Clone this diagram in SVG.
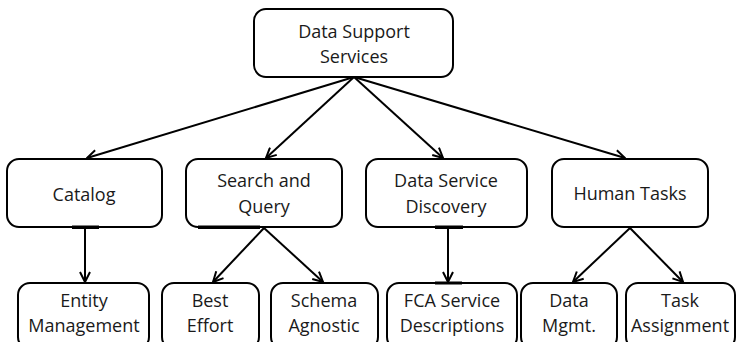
<svg xmlns="http://www.w3.org/2000/svg" width="737" height="342" viewBox="0 0 737 342">
  <defs>
    <marker id="arrow" viewBox="0 0 12 12" refX="11" refY="6" markerWidth="12" markerHeight="12" markerUnits="userSpaceOnUse" orient="auto">
      <path d="M1,1 L11,6 L1,11" fill="none" stroke="#000" stroke-width="2" stroke-linejoin="miter"/>
    </marker>
  </defs>
  <style>
    .box { fill: #fff; stroke: #000; stroke-width: 2; }
    .label { font-family: "Open Sans", "Liberation Sans", sans-serif; font-size: 18px; fill: #1a1a1a; text-anchor: middle; }
    .edge { stroke: #000; stroke-width: 2; fill: none; marker-end: url(#arrow); }
    .bar { fill: #000; }
  </style>
  <rect width="737" height="342" fill="#fff"/>

  <g id="connectors">
    <line class="edge" x1="354" y1="77" x2="87" y2="158"/>
    <line class="edge" x1="354" y1="77" x2="266" y2="158"/>
    <line class="edge" x1="354" y1="77" x2="443" y2="158"/>
    <line class="edge" x1="354" y1="77" x2="625" y2="158"/>
    <line class="edge" x1="85" y1="227" x2="85" y2="282"/>
    <line class="edge" x1="264" y1="228" x2="213" y2="282"/>
    <line class="edge" x1="264" y1="228" x2="323" y2="282"/>
    <line class="edge" x1="448" y1="227" x2="448" y2="282"/>
    <line class="edge" x1="630" y1="228" x2="573" y2="282"/>
    <line class="edge" x1="630" y1="228" x2="683" y2="282"/>
  </g>

  <g id="data-support-services">
    <rect class="box" x="254" y="9" width="199" height="68" rx="12"/>
    <text class="label" x="354" y="38">Data Support</text>
    <text class="label" x="354" y="63">Services</text>
  </g>

  <g id="catalog">
    <rect class="box" x="7" y="159" width="155" height="68" rx="12"/>
    <text class="label" x="84" y="201">Catalog</text>
  </g>

  <g id="search-and-query">
    <rect class="box" x="186" y="159" width="156" height="68" rx="12"/>
    <text class="label" x="264" y="187">Search and</text>
    <text class="label" x="264" y="213">Query</text>
  </g>

  <g id="data-service-discovery">
    <rect class="box" x="366" y="159" width="161" height="68" rx="12"/>
    <text class="label" x="446" y="187">Data Service</text>
    <text class="label" x="446" y="213">Discovery</text>
  </g>

  <g id="human-tasks">
    <rect class="box" x="552" y="159" width="156" height="68" rx="12"/>
    <text class="label" x="630" y="200">Human Tasks</text>
  </g>

  <g id="entity-management">
    <rect class="box" x="18" y="283" width="131" height="66" rx="12"/>
    <text class="label" x="84" y="307">Entity</text>
    <text class="label" x="84" y="332">Management</text>
  </g>

  <g id="best-effort">
    <rect class="box" x="162" y="283" width="97" height="66" rx="12"/>
    <text class="label" x="210" y="307">Best</text>
    <text class="label" x="210" y="332">Effort</text>
  </g>

  <g id="schema-agnostic">
    <rect class="box" x="271" y="283" width="107" height="66" rx="12"/>
    <text class="label" x="324" y="307">Schema</text>
    <text class="label" x="324" y="332">Agnostic</text>
  </g>

  <g id="fca-service-descriptions">
    <rect class="box" x="387" y="283" width="130" height="66" rx="12"/>
    <text class="label" x="452" y="307">FCA Service</text>
    <text class="label" x="452" y="332">Descriptions</text>
  </g>

  <g id="data-mgmt">
    <rect class="box" x="521" y="283" width="96" height="66" rx="12"/>
    <text class="label" x="569" y="307">Data</text>
    <text class="label" x="569" y="332">Mgmt.</text>
  </g>

  <g id="task-assignment">
    <rect class="box" x="626" y="283" width="109" height="66" rx="12"/>
    <text class="label" x="680" y="307">Task</text>
    <text class="label" x="680" y="332">Assignment</text>
  </g>

  <!-- heavier strokes where connectors meet box edges -->
  <g id="edge-joins">
    <rect class="bar" x="72" y="225.5" width="27" height="3.5"/>
    <rect class="bar" x="198" y="225.5" width="62" height="3.5"/>
    <rect class="bar" x="435" y="225.5" width="28" height="3.5"/>
    <rect class="bar" x="435" y="281.5" width="27" height="3"/>
  </g>
</svg>
